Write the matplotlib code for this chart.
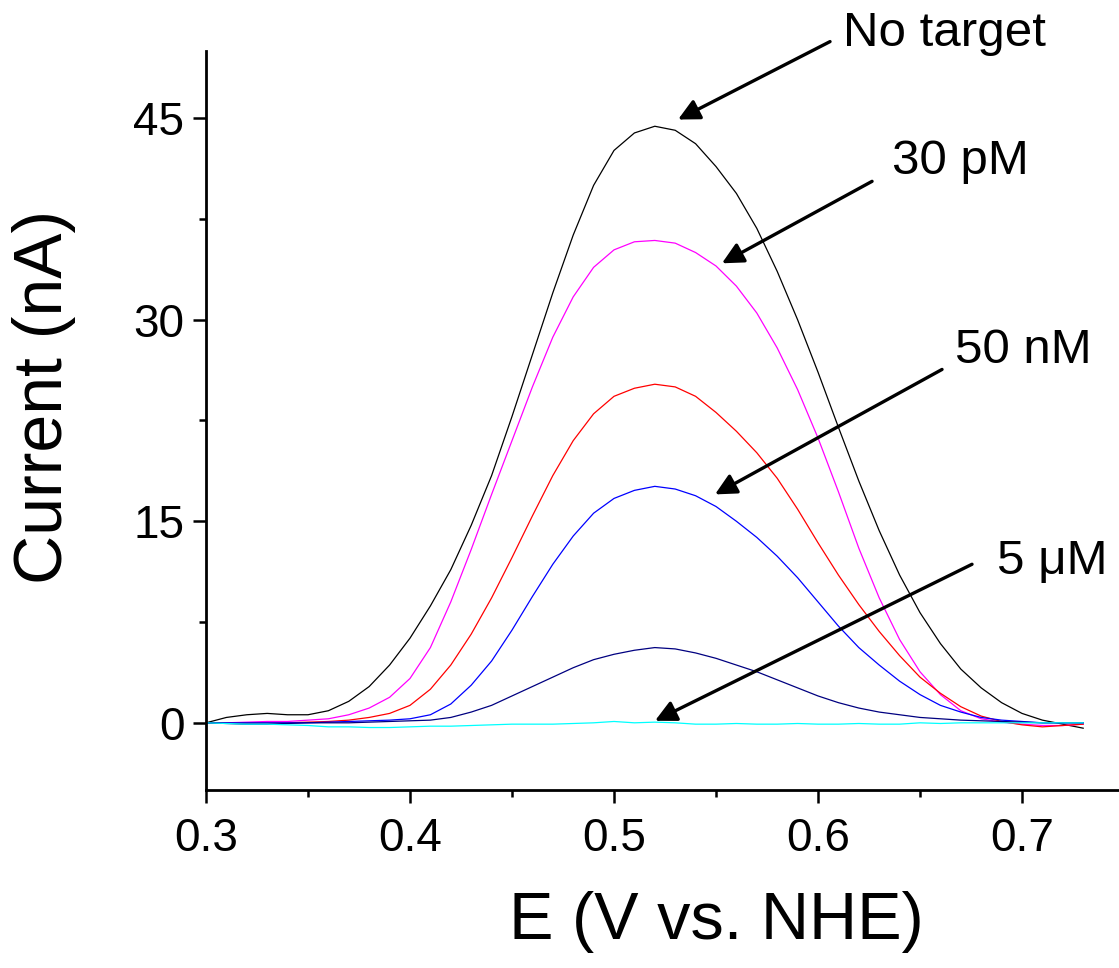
import numpy as np
import matplotlib
matplotlib.use('Agg')
import matplotlib.pyplot as plt
from matplotlib.ticker import MultipleLocator

plt.rcParams['font.family'] = ['Liberation Sans', 'DejaVu Sans']

E = [0.30, 0.31, 0.32, 0.33, 0.34, 0.35, 0.36, 0.37, 0.38, 0.39,
     0.40, 0.41, 0.42, 0.43, 0.44, 0.45, 0.46, 0.47, 0.48, 0.49,
     0.50, 0.51, 0.52, 0.53, 0.54, 0.55, 0.56, 0.57, 0.58, 0.59,
     0.60, 0.61, 0.62, 0.63, 0.64, 0.65, 0.66, 0.67, 0.68, 0.69,
     0.70, 0.71, 0.72, 0.73]

# currents (nA)
no_target = [0.0, 0.4, 0.6, 0.7, 0.6, 0.6, 0.9, 1.6, 2.7, 4.3,
             6.3, 8.7, 11.4, 14.7, 18.4, 22.8, 27.4, 32.0, 36.3, 40.0,
             42.6, 43.9, 44.4, 44.1, 43.1, 41.4, 39.4, 36.8, 33.6, 30.0,
             26.1, 22.0, 18.0, 14.3, 11.0, 8.2, 5.9, 4.0, 2.6, 1.5,
             0.7, 0.2, -0.1, -0.4]
pM30 = [0.0, 0.0, 0.05, 0.1, 0.1, 0.2, 0.3, 0.6, 1.1, 1.9,
        3.3, 5.6, 9.0, 12.9, 17.0, 21.0, 25.0, 28.7, 31.7, 33.9,
        35.2, 35.8, 35.9, 35.7, 35.0, 34.0, 32.5, 30.5, 27.9, 24.8,
        21.2, 17.2, 13.0, 9.3, 6.2, 3.8, 2.1, 0.9, 0.3, 0.05,
        -0.1, -0.2, -0.2, -0.1]
nM50_red = [0.0, 0.0, 0.0, 0.0, 0.0, 0.05, 0.1, 0.2, 0.4, 0.7,
            1.3, 2.5, 4.3, 6.6, 9.3, 12.3, 15.4, 18.4, 21.0, 23.0,
            24.3, 24.9, 25.2, 25.0, 24.3, 23.1, 21.7, 20.1, 18.2, 15.9,
            13.4, 11.0, 8.8, 6.8, 5.0, 3.4, 2.2, 1.2, 0.5, 0.1,
            -0.15, -0.3, -0.2, -0.1]
nM50_blue = [0.0, 0.0, 0.0, 0.0, 0.0, 0.0, 0.05, 0.1, 0.15, 0.2,
             0.3, 0.6, 1.4, 2.8, 4.6, 6.9, 9.4, 11.8, 13.9, 15.6,
             16.7, 17.3, 17.6, 17.4, 16.9, 16.1, 15.0, 13.8, 12.4, 10.8,
             9.0, 7.2, 5.6, 4.3, 3.1, 2.1, 1.3, 0.8, 0.4, 0.2,
             0.1, 0.0, 0.0, 0.0]
uM_navy = [0.0, -0.05, -0.1, -0.1, -0.05, 0.0, 0.0, 0.0, 0.05, 0.1,
           0.15, 0.2, 0.4, 0.8, 1.3, 2.0, 2.7, 3.4, 4.1, 4.7,
           5.1, 5.4, 5.6, 5.5, 5.2, 4.8, 4.3, 3.8, 3.2, 2.6,
           2.0, 1.5, 1.1, 0.8, 0.6, 0.4, 0.3, 0.2, 0.15, 0.1,
           0.05, 0.0, 0.0, 0.0]
uM5 = [0.0, -0.05, -0.1, -0.1, -0.15, -0.2, -0.3, -0.3, -0.35, -0.35,
       -0.3, -0.25, -0.25, -0.2, -0.15, -0.1, -0.1, -0.1, -0.05, 0.0,
       0.1, 0.0, 0.05, 0.0, -0.1, -0.1, -0.05, -0.1, -0.1, -0.05,
       -0.1, -0.1, -0.05, -0.1, -0.1, 0.0, -0.05, 0.0, 0.0, 0.0,
       0.0, 0.0, 0.0, 0.0]

labels = ['No target', '30 pM', '50 nM', '5 \u03bcM']
# (text x, text y, arrow tail x, tail y, head x, head y)
notes = [(0.6123, 51.3, 0.6059, 50.7, 0.5314, 44.9),
         (0.6363, 41.8, 0.6265, 40.3, 0.5529, 34.2),
         (0.6672, 27.7, 0.6608, 26.3, 0.5495, 17.0),
         (0.6877, 12.0, 0.6755, 11.8, 0.5201, 0.15)]

fig = plt.figure(figsize=(11.19, 9.68), dpi=100)
ax = fig.add_axes([206/1119, 1-790/968, 1-206/1119, (790-51)/968])

lw = 0.9
ax.plot(E, no_target, color='black', lw=lw)
ax.plot(E, pM30, color='#ff00ff', lw=lw)
ax.plot(E, nM50_red, color='#ff0000', lw=lw)
ax.plot(E, nM50_blue, color='#0000ff', lw=lw)
ax.plot(E, uM_navy, color='#000080', lw=lw)
ax.plot(E, uM5, color='#00ffff', lw=lw)

ax.set_xlim(0.3, 0.3 + 913/2040)
ax.set_ylim(-5, 50)
ax.xaxis.set_minor_locator(MultipleLocator(0.05))
ax.yaxis.set_minor_locator(MultipleLocator(7.5))
ax.set_xticks([0.3, 0.4, 0.5, 0.6, 0.7])
ax.set_xticklabels(['0.3', '0.4', '0.5', '0.6', '0.7'])
ax.set_yticks([0, 15, 30, 45])

for s in ['top', 'right']:
    ax.spines[s].set_visible(False)
for s in ['left', 'bottom']:
    ax.spines[s].set_linewidth(2.0)
ax.tick_params(which='major', length=9.5, width=1.8, labelsize=33, pad=6)
ax.tick_params(axis='x', which='major', pad=10)
ax.tick_params(which='minor', length=5, width=1.8)

for lab, (tx, ty, ax0, ay0, hx, hy) in zip(labels, notes):
    ax.annotate('', xy=(hx, hy), xytext=(ax0, ay0), annotation_clip=False,
                arrowprops=dict(arrowstyle='-|>', mutation_scale=32, lw=2.4,
                                color='black', shrinkA=0, shrinkB=0))
    ax.text(tx, ty, lab, fontsize=35.5, ha='left', va='center', clip_on=False)

fig.text(716/1119, 1-922/968, 'E (V vs. NHE)', fontsize=48, ha='center', va='center')
fig.text(44/1119, 1-397/968, 'Current (nA)', fontsize=49, ha='center', va='center',
         rotation=90)

fig.savefig('out.png', dpi=100)
